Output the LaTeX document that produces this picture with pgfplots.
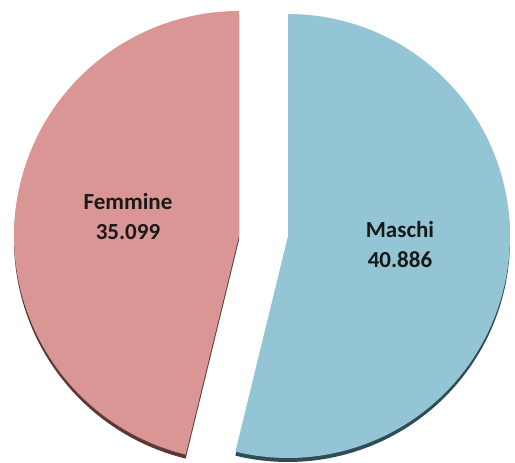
\documentclass[border=0pt]{standalone}
\usepackage{pgfplots}
\usepackage{pgfplotstable}
\pgfplotsset{compat=1.18}
\usepackage{fontspec}
\setmainfont{Carlito}
\definecolor{femm}{HTML}{D99694}
\definecolor{femmdark}{HTML}{5E3837}
\definecolor{masc}{HTML}{93C5D5}
\definecolor{mascdark}{HTML}{2F4D55}
\pgfplotstableread{
label value
Maschi 40.886
Femmine 35.099
}\piedata
\begin{document}
\begin{tikzpicture}
\pgfplotstablegetelem{0}{value}\of\piedata \let\vM=\pgfplotsretval
\pgfplotstablegetelem{1}{value}\of\piedata \let\vF=\pgfplotsretval
\pgfmathsetmacro{\tot}{\vM+\vF}
\pgfmathsetmacro{\aM}{90-360*\vM/\tot}
\pgfmathsetmacro{\aF}{90+360*\vF/\tot}
\begin{axis}[
  width=515pt, height=463pt, scale only axis,
  xmin=0, xmax=515, ymin=0, ymax=463,
  hide axis, clip=false,
]
% shadows (extrusion)
\addplot[fill=mascdark, draw=none, domain=\aM:90, samples=120]
  ({288+222*cos(x)},{223+222*sin(x)}) -- (axis cs:288,223) -- cycle;
\addplot[fill=femmdark, draw=none, domain=90:\aF, samples=120]
  ({239+225*cos(x)},{223+225*sin(x)}) -- (axis cs:239,223) -- cycle;
% slices
\addplot[fill=masc, draw=none, domain=\aM:90, samples=120]
  ({288+222*cos(x)},{227+222*sin(x)}) -- (axis cs:288,227) -- cycle;
\addplot[fill=femm, draw=none, domain=90:\aF, samples=120]
  ({239+225*cos(x)},{227+225*sin(x)}) -- (axis cs:239,227) -- cycle;
% labels
\node[align=center, font=\fontsize{23}{30}\selectfont\bfseries, text=black!90] at (axis cs:128,246) {Femmine\\35.099};
\node[align=center, font=\fontsize{23}{30}\selectfont\bfseries, text=black!90] at (axis cs:400,218) {Maschi\\40.886};
\end{axis}
\pgfresetboundingbox
\useasboundingbox (current axis.south west) rectangle (current axis.north east);
\end{tikzpicture}
\end{document}
